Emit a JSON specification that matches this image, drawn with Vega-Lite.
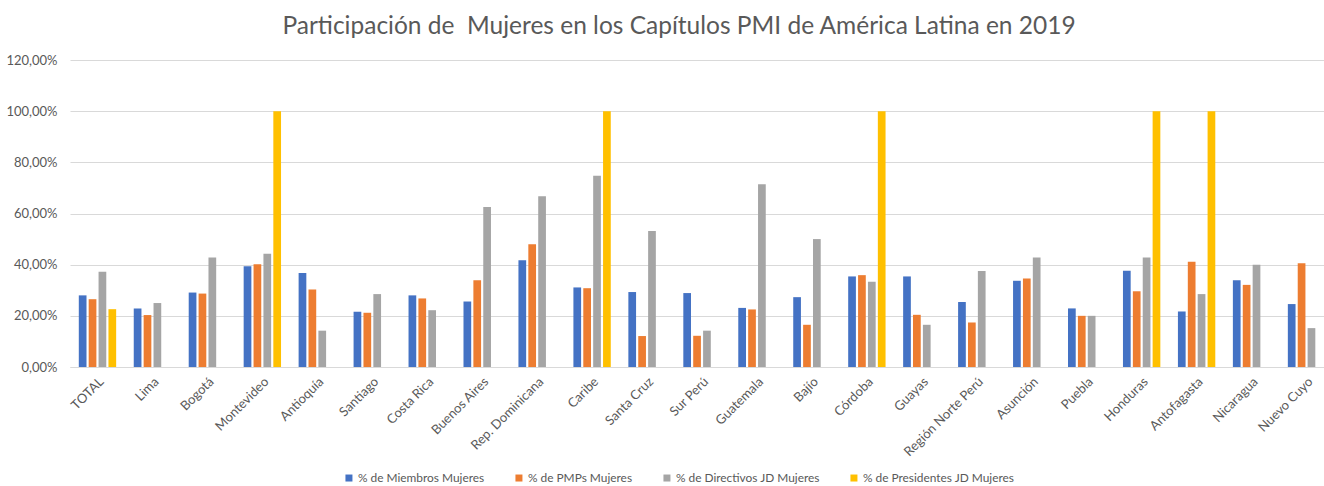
{
  "$schema": "https://vega.github.io/schema/vega-lite/v6.json",
  "width": 1254,
  "height": 307,
  "autosize": {"type": "none"},
  "padding": {"left": 70, "top": 60, "right": 0, "bottom": 119},
  "background": "white",
  "config": {"font": "Lato", "view": {"stroke": null}},
  "title": {
    "text": "Participación de\u00a0 Mujeres en los Capítulos PMI de América Latina en 2019",
    "fontSize": 24.5,
    "fontWeight": "normal",
    "color": "#595959",
    "anchor": "middle",
    "dx": -18,
    "offset": 15
  },
  "data": {
    "values": [
      {"c": "TOTAL", "% de Miembros Mujeres": 0.28, "% de PMPs Mujeres": 0.265, "% de Directivos JD Mujeres": 0.372, "% de Presidentes JD Mujeres": 0.226},
      {"c": "Lima", "% de Miembros Mujeres": 0.229, "% de PMPs Mujeres": 0.203, "% de Directivos JD Mujeres": 0.25},
      {"c": "Bogotá", "% de Miembros Mujeres": 0.291, "% de PMPs Mujeres": 0.287, "% de Directivos JD Mujeres": 0.428},
      {"c": "Montevideo", "% de Miembros Mujeres": 0.394, "% de PMPs Mujeres": 0.402, "% de Directivos JD Mujeres": 0.443, "% de Presidentes JD Mujeres": 1.0},
      {"c": "Antioquía", "% de Miembros Mujeres": 0.367, "% de PMPs Mujeres": 0.303, "% de Directivos JD Mujeres": 0.142},
      {"c": "Santiago", "% de Miembros Mujeres": 0.216, "% de PMPs Mujeres": 0.212, "% de Directivos JD Mujeres": 0.285},
      {"c": "Costa Rica", "% de Miembros Mujeres": 0.28, "% de PMPs Mujeres": 0.268, "% de Directivos JD Mujeres": 0.222},
      {"c": "Buenos Aires", "% de Miembros Mujeres": 0.256, "% de PMPs Mujeres": 0.339, "% de Directivos JD Mujeres": 0.625},
      {"c": "Rep. Dominicana", "% de Miembros Mujeres": 0.417, "% de PMPs Mujeres": 0.48, "% de Directivos JD Mujeres": 0.667},
      {"c": "Caribe", "% de Miembros Mujeres": 0.311, "% de PMPs Mujeres": 0.308, "% de Directivos JD Mujeres": 0.748, "% de Presidentes JD Mujeres": 1.0},
      {"c": "Santa Cruz", "% de Miembros Mujeres": 0.293, "% de PMPs Mujeres": 0.121, "% de Directivos JD Mujeres": 0.532},
      {"c": "Sur Perú", "% de Miembros Mujeres": 0.289, "% de PMPs Mujeres": 0.122, "% de Directivos JD Mujeres": 0.142},
      {"c": "Guatemala", "% de Miembros Mujeres": 0.231, "% de PMPs Mujeres": 0.225, "% de Directivos JD Mujeres": 0.714},
      {"c": "Bajío", "% de Miembros Mujeres": 0.273, "% de PMPs Mujeres": 0.165, "% de Directivos JD Mujeres": 0.5},
      {"c": "Córdoba", "% de Miembros Mujeres": 0.354, "% de PMPs Mujeres": 0.359, "% de Directivos JD Mujeres": 0.333, "% de Presidentes JD Mujeres": 1.0},
      {"c": "Guayas", "% de Miembros Mujeres": 0.354, "% de PMPs Mujeres": 0.204, "% de Directivos JD Mujeres": 0.165},
      {"c": "Región Norte Perú", "% de Miembros Mujeres": 0.254, "% de PMPs Mujeres": 0.174, "% de Directivos JD Mujeres": 0.375},
      {"c": "Asunción", "% de Miembros Mujeres": 0.337, "% de PMPs Mujeres": 0.346, "% de Directivos JD Mujeres": 0.428},
      {"c": "Puebla", "% de Miembros Mujeres": 0.229, "% de PMPs Mujeres": 0.2, "% de Directivos JD Mujeres": 0.2},
      {"c": "Honduras", "% de Miembros Mujeres": 0.376, "% de PMPs Mujeres": 0.296, "% de Directivos JD Mujeres": 0.428, "% de Presidentes JD Mujeres": 1.0},
      {"c": "Antofagasta", "% de Miembros Mujeres": 0.217, "% de PMPs Mujeres": 0.411, "% de Directivos JD Mujeres": 0.285, "% de Presidentes JD Mujeres": 1.0},
      {"c": "Nicaragua", "% de Miembros Mujeres": 0.339, "% de PMPs Mujeres": 0.321, "% de Directivos JD Mujeres": 0.4},
      {"c": "Nuevo Cuyo", "% de Miembros Mujeres": 0.246, "% de PMPs Mujeres": 0.406, "% de Directivos JD Mujeres": 0.152}
    ]
  },
  "transform": [
    {"fold": ["% de Miembros Mujeres", "% de PMPs Mujeres", "% de Directivos JD Mujeres", "% de Presidentes JD Mujeres"], "as": ["serie", "valor"]},
    {"filter": "isValid(datum.valor)"}
  ],
  "mark": {"type": "bar"},
  "encoding": {
    "x": {
      "field": "c",
      "type": "nominal",
      "sort": null,
      "scale": {"range": [0, 1264], "paddingInner": 0.32, "paddingOuter": 0.16},
      "axis": {
        "title": null,
        "labelAngle": -45,
        "labelFontSize": 13,
        "labelColor": "#595959",
        "ticks": false,
        "domainColor": "#D9D9D9",
        "labelPadding": 8
      }
    },
    "xOffset": {
      "field": "serie",
      "type": "nominal",
      "scale": {"domain": ["% de Miembros Mujeres", "% de PMPs Mujeres", "% de Directivos JD Mujeres", "% de Presidentes JD Mujeres"], "paddingInner": 0.22, "paddingOuter": 0}
    },
    "y": {
      "field": "valor",
      "type": "quantitative",
      "scale": {"domain": [0, 1.2]},
      "axis": {
        "title": null,
        "values": [0, 0.2, 0.4, 0.6, 0.8, 1.0, 1.2],
        "labelExpr": "replace(format(datum.value, '.2%'), '.', ',')",
        "domain": false,
        "ticks": false,
        "gridColor": "#D9D9D9",
        "labelColor": "#595959",
        "labelFontSize": 13,
        "labelPadding": 13
      }
    },
    "color": {
      "field": "serie",
      "type": "nominal",
      "scale": {
        "domain": ["% de Miembros Mujeres", "% de PMPs Mujeres", "% de Directivos JD Mujeres", "% de Presidentes JD Mujeres"],
        "range": ["#4472C4", "#ED7D31", "#A5A5A5", "#FFC000"]
      },
      "legend": {
        "orient": "none",
        "legendX": 273,
        "legendY": 412,
        "direction": "horizontal",
        "title": null,
        "symbolType": "square",
        "symbolSize": 49,
        "symbolStrokeWidth": 0,
        "labelFontSize": 11.9,
        "labelColor": "#595959",
        "labelOffset": 3,
        "columnPadding": 28
      }
    }
  }
}
